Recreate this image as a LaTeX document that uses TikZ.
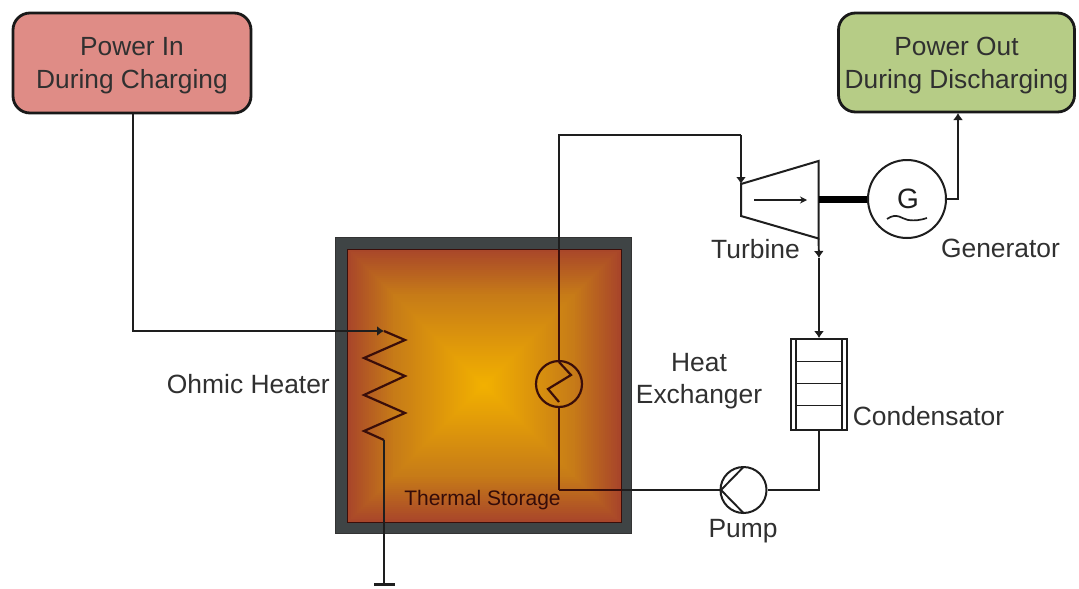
\documentclass[tikz,border=0pt]{standalone}
\usepackage{fontspec}
\setmainfont{Liberation Sans}
\usetikzlibrary{arrows.meta,calc}
\definecolor{wall}{HTML}{3F4445}
\definecolor{hotc}{HTML}{F2B000}
\definecolor{midc}{HTML}{C67A18}
\definecolor{edgec}{HTML}{A8452A}
\definecolor{inbox}{HTML}{DF8C86}
\definecolor{outbox}{HTML}{B6CC86}
\definecolor{ink}{HTML}{1E1E1E}
\definecolor{lab}{HTML}{303030}
\definecolor{deep}{HTML}{3A0E0A}
\newcommand{\lowerline}[1]{\raisebox{-3pt}[\height][\depth]{#1}}
\tikzset{
  x=1pt,y=-1pt,
  powerbox/.style={draw=black!90,line width=2.8pt,rounded corners=17pt,inner sep=0pt,align=center,text=lab,font=\fontsize{26.3}{33}\selectfont},
  lbl/.style={text=lab,font=\fontsize{26.4}{32}\selectfont,inner sep=0pt,align=center},
  wire/.style={draw=ink,line width=1.9pt},
  hotwire/.style={draw=deep,line width=2.2pt,line join=miter},
  flow/.style={wire,-{Latex[length=7pt,width=10pt]}}
}
\begin{document}
\begin{tikzpicture}
\useasboundingbox (0,0) rectangle (1079,589);
\fill[white] (0,0) rectangle (1079,589);
% storage
\node[draw=black!80,line width=1pt,fill=wall,minimum width=296pt,minimum height=296pt,inner sep=0pt] (wallbox) at (483,385) {};
\foreach \i in {0,1,...,68}{
  \pgfmathsetmacro{\d}{137*(1-\i/69)}
  \pgfmathsetmacro{\t}{\i/68}
  \pgfmathsetmacro{\pa}{min(100,300*\t)}
  \pgfmathsetmacro{\pb}{max(0,min(100,(\t-0.33)*150))}
  \colorlet{cc}{midc!\pa!edgec}
  \colorlet{cd}{hotc!\pb!cc}
  \fill[cd] (484-\d,385.5-\d) rectangle (484+\d,385.5+\d);
}
\draw[deep,line width=1pt] (347,249) rectangle (621,522);
\node[text=deep!90!black,inner sep=0pt,font=\fontsize{21}{25}\selectfont] (storagelabel) at (482.5,500) {Thermal Storage};
% power boxes
\node[powerbox,fill=inbox,minimum width=238pt,minimum height=100pt] (powerin) at (132,63) {\lowerline{Power In}\\\lowerline{During Charging}};
\node[powerbox,fill=outbox,minimum width=236pt,minimum height=99pt] (powerout) at (956.5,62.5) {\lowerline{Power Out}\\\lowerline{During Discharging}};
% heater
\coordinate (hA) at (133,331);
\coordinate (hB) at (384,331);
\coordinate (hEnd) at (384,440);
\coordinate (gnd) at (384,583);
\draw[flow] (powerin.south -| hA) -- (hA) -- (hB);
\draw[hotwire] (hB) -- (405,340) -- (364,358) -- (405,376) -- (364,395) -- (405,413) -- (364,431) -- (hEnd);
\draw[wire] (hEnd) -- (gnd);
\draw[ink,line width=2.8pt] (374,584.5) -- (395,584.5);
% heat exchanger
\node[circle,draw=deep,line width=2.2pt,minimum size=46pt,inner sep=0pt] (hx) at (559,384) {};
\draw[hotwire] (559,362) -- (571,375) -- (548,389) -- (559,402);
% turbine
\coordinate (tTL) at (741,184);
\coordinate (tTR) at (818.5,161);
\coordinate (tBR) at (818.5,238.5);
\coordinate (tBL) at (741,216);
\draw[wire,line width=2pt,line join=miter,fill=white] (tTL) -- (tTR) -- (tBR) -- (tBL) -- cycle;
\coordinate (t1) at (754,200);
\coordinate (t2) at (807,200);
\draw[wire,-{Stealth[length=7pt,width=7pt]}] (t1) -- (t2);
% generator
\node[circle,draw=ink,line width=2pt,fill=white,minimum size=78pt,inner sep=0pt] (gen) at (907,199) {};
\node[text=ink,inner sep=0pt,font=\fontsize{28}{28}\selectfont] (gletter) at (908,199) {G};
\draw[ink,line width=1.7pt] (887,219) .. controls (897,212) and (902,219) .. (908,220) .. controls (915,221) and (921,220) .. (927,218);
\draw[black,line width=7pt] (tTR |- gen.west) -- (gen.west);
\draw[flow] (gen.east) -- (958,199) -- (958,113);
% loop
\coordinate (sT1) at (559,135);
\coordinate (sT2) at (741,135);
\draw[wire] (hx.north) -- (sT1) -- (sT2);
\draw[flow] (sT2) -- (tTL);
\draw[hotwire] (559,250) -- (559,362);
% condensator
\node[draw=ink,line width=1.8pt,fill=white,minimum width=56pt,minimum height=91pt,inner sep=0pt] (cond) at (819,384.5) {};
\draw[ink,line width=1.8pt] (796,339) -- (796,430) (842,339) -- (842,430);
\draw[ink,line width=1.8pt] (796,361.5) -- (842,361.5) (796,383.5) -- (842,383.5) (796,405.5) -- (842,405.5);
\coordinate (tick) at (819,258);
\draw[wire,-{Latex[length=7pt,width=10pt]}] (tBR) -- (tick);
\draw[flow] (tick) -- (cond.north);
% pump
\node[circle,draw=ink,line width=2pt,fill=white,minimum size=46pt,inner sep=0pt] (pump) at (743.5,490) {};
\draw[ink,line width=1.9pt] (743.5,467) -- (721,490) -- (743.5,513);
\coordinate (cB) at (819,490);
\draw[wire] (cond.south) -- (cB) -- (pump.east);
\coordinate (hxB) at (559,490);
\draw[wire] (pump.west) -- (hxB);
\draw[hotwire] (hxB) -- (hx.south);
\draw[hotwire] (hxB) -- (622,490);
% labels
\node[lbl,anchor=east] (ohm) at (330,384) {Ohmic Heater};
\node[lbl] (hxl) at (699,381) {Heat\\Exchanger};
\node[lbl] (tl) at (755.5,249) {Turbine};
\node[lbl] (gl) at (1000.5,248) {Generator};
\node[lbl] (cl) at (928.5,416) {Condensator};
\node[lbl] (pl) at (743,531) {Pump};
\end{tikzpicture}
\end{document}
